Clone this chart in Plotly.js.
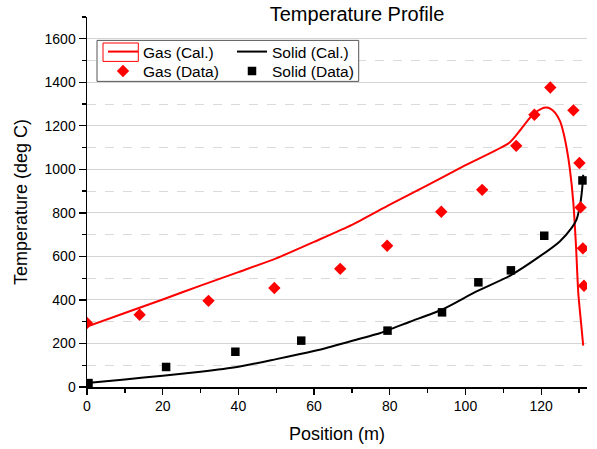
<!DOCTYPE html>
<html>
<head>
<meta charset="utf-8">
<script src="https://cdn.plot.ly/plotly-3.0.1.min.js"></script>
<style>html,body{margin:0;padding:0;background:#fff;}#chart{width:597px;height:449px;}</style>
</head>
<body>
<div id="chart"></div>
<script>
// Calculated gas temperature profile
const gasCalX = [0, 10, 20, 30, 40, 50, 60, 70, 80, 90, 100, 111.5, 114, 116, 118, 120, 121.3, 122.5, 123.7, 125, 125.9, 126.8, 127.6, 128.5, 129.2, 129.8, 130.5, 131.1];
const gasCalY = [278, 340, 402, 466, 528, 591, 667, 745, 838, 928, 1019, 1121, 1170, 1215, 1255, 1278, 1284, 1278, 1259, 1220, 1167, 1090, 998, 845, 646, 432, 300, 190];
// Calculated solid temperature profile
const solidCalX = [0, 10, 20, 30, 40, 50, 56, 63, 69.4, 77.5, 85.3, 93.7, 102.9, 111.7, 119.6, 124.9, 128, 129.3, 130.2, 130.8, 131.1];
const solidCalY = [18, 35, 52, 70, 93, 128, 150, 178, 209, 248, 300, 355, 439, 511, 600, 669, 730, 768, 830, 906, 975];
// Measured gas temperatures
const gasDataX = [0, 13.9, 32.1, 49.5, 66.9, 79.3, 93.6, 104.4, 113.4, 118.2, 122.4, 128.5, 130.1, 130.4, 131.0, 131.3];
const gasDataY = [294, 332, 396, 455, 543, 649, 805, 906, 1108, 1251, 1376, 1271, 1029, 825, 637, 465];
// Measured solid temperatures
const solidDataX = [0.4, 20.9, 39.2, 56.6, 79.4, 93.8, 103.4, 112.0, 120.8, 130.9];
const solidDataY = [18, 92, 162, 213, 259, 343, 481, 536, 695, 949];

const FONT = 'Arial, "Liberation Sans", sans-serif';

const traces = [
  {x: gasCalX, y: gasCalY, mode: 'lines', name: 'Gas (Cal.)', showlegend: true, line: {color: '#ff0000', width: 2, shape: 'spline', smoothing: 0.6}, legend: 'legend'},
  {x: solidCalX, y: solidCalY, mode: 'lines', name: 'Solid (Cal.)', showlegend: true, line: {color: '#000000', width: 2, shape: 'spline', smoothing: 0.6}, legend: 'legend2'},
  {x: gasDataX, y: gasDataY, mode: 'markers', name: 'Gas (Data)', showlegend: true, marker: {symbol: 'diamond', size: 9.5, color: '#ff0000'}, legend: 'legend3'},
  {x: solidDataX, y: solidDataY, mode: 'markers', name: 'Solid (Data)', showlegend: true, marker: {symbol: 'square', size: 8.5, color: '#000000'}, legend: 'legend4'}
];

const legendCommon = {
  bgcolor: 'rgba(0,0,0,0)', borderwidth: 0, font: {family: FONT, size: 15.5, color: '#000'},
  xanchor: 'left', yanchor: 'middle', tracegroupgap: 0, itemwidth: 30, visible: true
};

const layout = {
  width: 597, height: 449,
  showlegend: true,
  margin: {l: 87, r: 10, t: 17.3, b: 61.7},
  paper_bgcolor: '#ffffff', plot_bgcolor: '#ffffff',
  font: {family: FONT, size: 14, color: '#000'},
  title: {text: 'Temperature Profile', font: {family: FONT, size: 20, color: '#000'}, xref: 'container', x: 0.598, xanchor: 'center', yref: 'container', y: 0.968, yanchor: 'middle'},
  xaxis: {
    range: [0, 132.1], dtick: 20, tick0: 0, ticks: 'outside', ticklen: 6, tickwidth: 1.3, tickcolor: '#000',
    showline: true, linecolor: '#000', linewidth: 1.5, showgrid: false, zeroline: false,
    minor: {dtick: 10, ticks: 'outside', ticklen: 4, tickcolor: '#000', showgrid: false},
    tickfont: {family: FONT, size: 14, color: '#000'},
    title: {text: 'Position (m)', font: {family: FONT, size: 18, color: '#000'}, standoff: 14}
  },
  yaxis: {
    range: [0, 1700], dtick: 200, tick0: 0, ticks: 'outside', ticklen: 7, tickwidth: 1.3, tickcolor: '#000',
    showline: true, linecolor: '#000', linewidth: 1.5, showgrid: true, gridcolor: '#d4d4d4', gridwidth: 1, zeroline: false,
    minor: {dtick: 100, ticks: 'outside', ticklen: 4, tickcolor: '#000', showgrid: true, gridcolor: '#dadada', griddash: 'dash', gridwidth: 1},
    tickfont: {family: FONT, size: 14, color: '#000'},
    title: {text: 'Temperature (deg C)', font: {family: FONT, size: 18, color: '#000'}, standoff: 12}
  },
  legend: Object.assign({}, legendCommon, {x: 0.032, y: 0.9054}),
  legend2: Object.assign({}, legendCommon, {x: 0.29, y: 0.9054}),
  legend3: Object.assign({}, legendCommon, {x: 0.032, y: 0.853}),
  legend4: Object.assign({}, legendCommon, {x: 0.29, y: 0.853}),
  shapes: [
    {type: 'rect', xref: 'paper', yref: 'paper', x0: 0.02, x1: 0.5434, y0: 0.826, y1: 0.9368, line: {color: '#555', width: 1}, fillcolor: '#ffffff', layer: 'above'},
    {type: 'rect', xref: 'paper', yref: 'paper', x0: 0.032, x1: 0.1026, y0: 0.88, y1: 0.9297, line: {color: '#ff0000', width: 1}, fillcolor: 'rgba(0,0,0,0)', layer: 'above'}
  ]
};

Plotly.newPlot('chart', traces, layout, {displayModeBar: false, staticPlot: true});
</script>
</body>
</html>
